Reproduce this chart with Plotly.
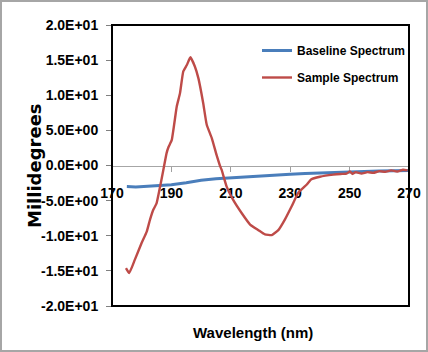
import plotly.graph_objects as go

# ---------------- data ----------------
baseline_wl = [175, 178, 182, 186, 190, 195, 200, 205, 210, 215, 220, 225,
               230, 235, 240, 245, 250, 255, 260, 265, 270]
baseline_mdeg = [-3.0, -3.05, -2.95, -2.85, -2.75, -2.45, -2.1, -1.9, -1.75, -1.6,
                 -1.45, -1.35, -1.25, -1.15, -1.05, -1.0, -0.9, -0.85, -0.8, -0.75, -0.7]

sample_wl = [174.7, 175.8, 177.7, 180.0, 181.7, 182.8, 183.9, 185.0, 186.2, 187.3,
             188.4, 189.0, 190.1, 191.8, 192.9, 194.0, 195.2, 196.4, 197.9, 199.1,
             200.7, 201.9, 203.6, 205.2, 206.4, 206.9, 208.6, 210.8, 213.7, 216.5,
             219.3, 221.5, 223.8, 226.0, 228.2, 230.5, 232.7, 235.6, 237.0, 240.0,
             244.5, 247.0, 249.0, 250.1, 251.0, 252.0, 254.0, 256.0, 258.0, 260.0,
             262.0, 264.0, 266.0, 268.0, 269.5]
sample_mdeg = [-14.6, -15.3, -13.4, -11.0, -9.4, -7.7, -6.3, -5.4, -3.0, -0.6,
               1.8, 2.6, 3.6, 8.4, 10.3, 13.4, 14.3, 15.4, 14.1, 12.4,
               8.9, 5.8, 3.9, 1.5, -0.1, -0.6, -3.0, -4.9, -6.8, -8.4,
               -9.2, -9.8, -9.9, -9.2, -7.7, -5.8, -3.9, -2.7, -2.0, -1.6,
               -1.3, -1.2, -1.15, -0.85, -1.2, -0.95, -1.15, -0.95, -1.05, -0.8,
               -0.9, -0.7, -0.85, -0.6, -0.7]

y_tickvals = [20, 15, 10, 5, 0, -5, -10, -15, -20]
y_ticktext = ["2.0E+01", "1.5E+01", "1.0E+01", "5.0E+00", "0.0E+00",
              "-5.0E+00", "-1.0E+01", "-1.5E+01", "-2.0E+01"]
x_tickvals = [170, 190, 210, 230, 250, 270]
x_ticktext = ["170", "190", "210", "230", "250", "270"]

x_title = "Wavelength (nm)"
y_title = "Millidegrees"

# ---------------- layout constants ----------------
W, H = 428, 352
L, R, T, B = 112, 19, 25, 46
PW, PH = W - L - R, H - T - B

SANS = "Liberation Sans, Arial, sans-serif"


def px_x(p):
    return (p - L) / PW


def px_y(p):
    return (T + PH - p) / PH


fig = go.Figure()
fig.add_trace(go.Scatter(x=baseline_wl, y=baseline_mdeg, mode="lines",
                         name="Baseline Spectrum", legendgroup="a",
                         line=dict(color="#4a7ebb", width=3)))
fig.add_trace(go.Scatter(x=sample_wl, y=sample_mdeg, mode="lines",
                         name="Sample Spectrum", legendgroup="b",
                         line=dict(color="#be4b48", width=2.4, shape="spline", smoothing=0.4)))

# outer gray border and black plot frame
fig.add_shape(type="rect", xref="paper", yref="paper",
              x0=px_x(1), x1=px_x(427), y0=px_y(351), y1=px_y(1),
              line=dict(color="#a6a6a6", width=2), layer="below")
fig.add_shape(type="rect", xref="paper", yref="paper",
              x0=0, x1=1, y0=0, y1=1,
              line=dict(color="black", width=2), layer="above")

# axis titles
fig.add_annotation(text=x_title, xref="paper", yref="paper",
                   x=px_x(253), y=px_y(332), xanchor="center", yanchor="middle",
                   showarrow=False,
                   font=dict(family=SANS, size=15, color="black", weight="bold"))
fig.add_annotation(text=y_title, xref="paper", yref="paper",
                   x=px_x(34), y=px_y(165), xanchor="center", yanchor="middle",
                   textangle=-90, showarrow=False,
                   font=dict(family="DejaVu Sans", size=18, color="black", weight="bold"))

fig.update_layout(
    width=W, height=H,
    margin=dict(l=L, r=R, t=T, b=B, pad=0, autoexpand=False),
    paper_bgcolor="white", plot_bgcolor="white",
    showlegend=True,
    legend=dict(x=px_x(257), y=px_y(36), xanchor="left", yanchor="top",
                bgcolor="rgba(0,0,0,0)", borderwidth=0,
                tracegroupgap=8,
                font=dict(family=SANS, size=12, color="black", weight="bold")),
    xaxis=dict(range=[170, 270], anchor="free", position=0.5, side="bottom",
               tickmode="array", tickvals=x_tickvals, ticktext=x_ticktext,
               ticks="outside", ticklen=5, tickcolor="#a0a0a0", tickwidth=1,
               showline=True, linecolor="#a6a6a6", linewidth=1,
               showgrid=False, zeroline=False, layer="below traces",
               ticklabelstandoff=10, automargin=False,
               tickfont=dict(family=SANS, size=14, color="black", weight="bold")),
    yaxis=dict(range=[-20, 20], tickmode="array", tickvals=y_tickvals, ticktext=y_ticktext,
               ticks="outside", ticklen=5, tickcolor="#808080", tickwidth=1,
               showgrid=False, zeroline=False, showline=False,
               ticklabelstandoff=5, automargin=False,
               tickfont=dict(family=SANS, size=14, color="black", weight="bold")),
)

fig.write_html("out.html")
